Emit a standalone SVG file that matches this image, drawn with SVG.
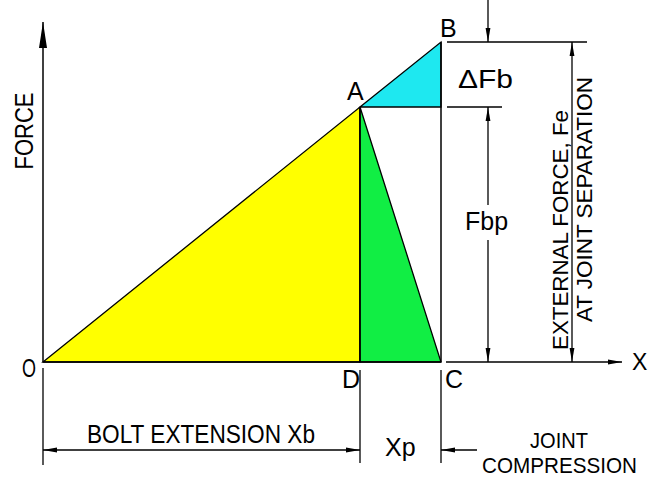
<svg xmlns="http://www.w3.org/2000/svg" width="650" height="477" viewBox="0 0 650 477">
<defs>
<style>
.ln{stroke:#000;stroke-width:1.5;fill:none}
.dim{stroke:#000;stroke-width:1.3;fill:none}
.tri{stroke:#000;stroke-width:1.3}
.t{font-family:"Liberation Sans",Arial,sans-serif;font-size:25px;fill:#000}
.ts{font-family:"Liberation Sans",Arial,sans-serif;font-size:22px;fill:#000}
</style>
<marker id="ah" viewBox="0 0 14 6" refX="14" refY="3" markerWidth="14" markerHeight="6" markerUnits="userSpaceOnUse" orient="auto-start-reverse">
<path d="M0,0.6 L14,3 L0,5.4 Z" fill="#000"/>
</marker>
<marker id="ahBig" viewBox="0 0 26 8" refX="26" refY="4" markerWidth="26" markerHeight="8" markerUnits="userSpaceOnUse" orient="auto">
<path d="M0,0 L26,4 L0,8 Z" fill="#000"/>
</marker>
</defs>
<rect width="650" height="477" fill="#fff"/>

<g id="area-bolt"><polygon class="tri" points="43,362 360,107 360,362" fill="#FFFF00"/></g>
<g id="area-joint"><polygon class="tri" points="360,107 441,362 360,362" fill="#11EE44"/></g>
<g id="area-delta"><polygon class="tri" points="360,107 441,42 441,107" fill="#1EE8F0"/></g>

<g id="connectors">
<line class="ln" x1="43" y1="362" x2="43" y2="22" marker-end="url(#ahBig)"/>
<line class="ln" x1="43" y1="362" x2="441" y2="362"/>
<line class="ln" x1="446" y1="362" x2="622" y2="362" marker-end="url(#ah)"/>
<line class="ln" x1="360" y1="107" x2="360" y2="362"/>
<line class="ln" x1="441" y1="42" x2="441" y2="362"/>
<line class="dim" x1="43" y1="368" x2="43" y2="465"/>
<line class="dim" x1="360" y1="370" x2="360" y2="463"/>
<line class="dim" x1="441" y1="370" x2="441" y2="463"/>
<line class="dim" x1="43" y1="450" x2="360" y2="450" marker-start="url(#ah)" marker-end="url(#ah)"/>
<line class="dim" x1="477" y1="450" x2="441" y2="450" marker-end="url(#ah)"/>
<line class="dim" x1="447" y1="42" x2="587" y2="42"/>
<line class="dim" x1="447" y1="107" x2="502" y2="107"/>
<line class="dim" x1="488" y1="0" x2="488" y2="42" marker-end="url(#ah)"/>
<line class="dim" x1="488" y1="205" x2="488" y2="107" marker-end="url(#ah)"/>
<line class="dim" x1="488" y1="240" x2="488" y2="362" marker-end="url(#ah)"/>
<line class="dim" x1="572" y1="42" x2="572" y2="362" marker-start="url(#ah)" marker-end="url(#ah)"/>
</g>

<g id="label-force"><text class="t" transform="translate(33,131) rotate(-90)" text-anchor="middle" textLength="77" lengthAdjust="spacingAndGlyphs">FORCE</text></g>
<g id="point-O"><text class="t" x="22" y="377" textLength="14" lengthAdjust="spacingAndGlyphs">O</text></g>
<g id="point-A"><text class="t" x="347" y="100">A</text></g>
<g id="point-B"><text class="t" x="440" y="37">B</text></g>
<g id="point-C"><text class="t" x="445" y="388">C</text></g>
<g id="point-D"><text class="t" x="342" y="388">D</text></g>
<g id="label-X"><text class="t" x="632" y="370" style="font-size:23px">X</text></g>
<g id="label-dfb"><text class="t" x="458" y="88" textLength="55" lengthAdjust="spacingAndGlyphs">ΔFb</text></g>
<g id="label-fbp"><text class="t" x="465" y="230">Fbp</text></g>
<g id="label-fe">
<text class="ts" transform="translate(568,350) rotate(-90)" textLength="240" lengthAdjust="spacingAndGlyphs">EXTERNAL FORCE, Fe</text>
<text class="ts" transform="translate(592,322) rotate(-90)" textLength="245" lengthAdjust="spacingAndGlyphs">AT JOINT SEPARATION</text>
</g>
<g id="label-xb"><text class="t" x="87" y="443" textLength="228" lengthAdjust="spacingAndGlyphs">BOLT EXTENSION Xb</text></g>
<g id="label-xp"><text class="t" x="385" y="456">Xp</text></g>
<g id="label-joint">
<text class="ts" x="530" y="448" textLength="58" lengthAdjust="spacingAndGlyphs">JOINT</text>
<text class="ts" x="482" y="473" textLength="155" lengthAdjust="spacingAndGlyphs">COMPRESSION</text>
</g>
</svg>
